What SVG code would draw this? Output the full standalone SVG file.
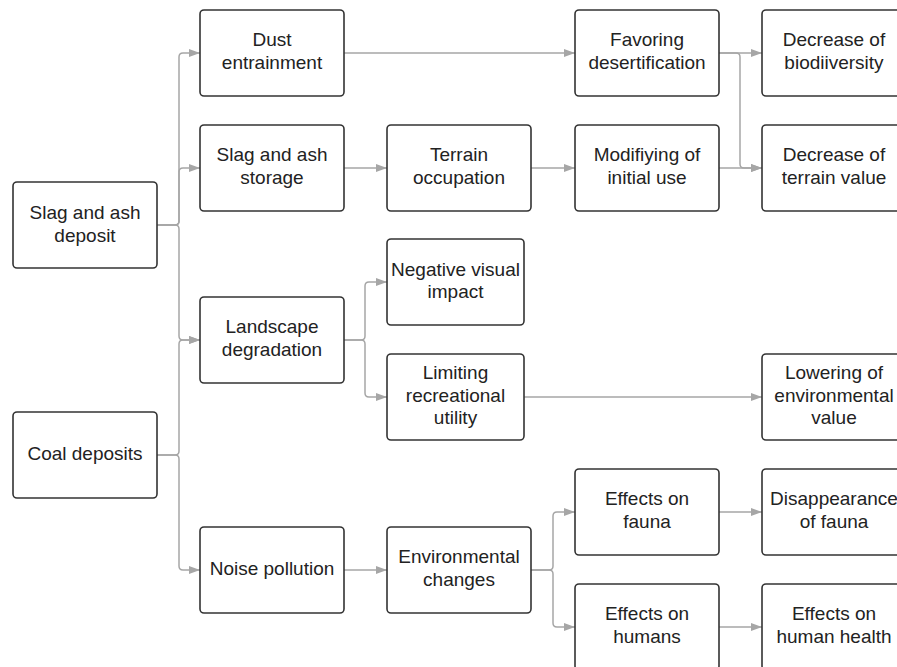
<svg xmlns="http://www.w3.org/2000/svg" width="897" height="667" viewBox="0 0 897 667">
<style>
.box{fill:#fff;stroke:#333;stroke-width:1.6}
.t{font-family:"Liberation Sans",Arial,sans-serif;font-size:19px;fill:#222;text-anchor:middle}
.c{fill:none;stroke:#a6a6a6;stroke-width:1.5}
</style>
<defs>
<marker id="ah" markerUnits="userSpaceOnUse" markerWidth="11" markerHeight="8" refX="11" refY="4" orient="auto">
<path d="M0,0 L11,4 L0,8 z" fill="#a6a6a6"/>
</marker>
</defs>
<rect width="897" height="667" fill="#fff"/>
<g id="connectors">
<path class="c" marker-end="url(#ah)" d="M157,225 H175 Q179,225 179,221 V57 Q179,53 183,53 H200"/>
<path class="c" marker-end="url(#ah)" d="M157,225 H175 Q179,225 179,221 V172 Q179,168 183,168 H200"/>
<path class="c" marker-end="url(#ah)" d="M157,225 H175 Q179,225 179,229 V336 Q179,340 183,340 H200"/>
<path class="c" marker-end="url(#ah)" d="M157,455 H175 Q179,455 179,451 V344 Q179,340 183,340 H200"/>
<path class="c" marker-end="url(#ah)" d="M157,455 H175 Q179,455 179,459 V566 Q179,570 183,570 H200"/>
<path class="c" marker-end="url(#ah)" d="M344,53 H575"/>
<path class="c" marker-end="url(#ah)" d="M344,168 H387"/>
<path class="c" marker-end="url(#ah)" d="M531,168 H575"/>
<path class="c" marker-end="url(#ah)" d="M719,53 H762"/>
<path class="c" marker-end="url(#ah)" d="M719,53 H736 Q740,53 740,57 V164 Q740,168 744,168 H762"/>
<path class="c" marker-end="url(#ah)" d="M719,168 H762"/>
<path class="c" marker-end="url(#ah)" d="M344,340 H361 Q365,340 365,336 V286 Q365,282 369,282 H387"/>
<path class="c" marker-end="url(#ah)" d="M344,340 H361 Q365,340 365,344 V393 Q365,397 369,397 H387"/>
<path class="c" marker-end="url(#ah)" d="M524,397 H762"/>
<path class="c" marker-end="url(#ah)" d="M344,570 H387"/>
<path class="c" marker-end="url(#ah)" d="M531,570 H549 Q553,570 553,566 V516 Q553,512 557,512 H575"/>
<path class="c" marker-end="url(#ah)" d="M531,570 H549 Q553,570 553,574 V623 Q553,627 557,627 H575"/>
<path class="c" marker-end="url(#ah)" d="M719,512 H762"/>
<path class="c" marker-end="url(#ah)" d="M719,627 H762"/>
</g>
<g id="n-slag-deposit"><rect class="box" x="13" y="182" width="144" height="86" rx="4"/><text class="t" x="85" y="219">Slag and ash</text><text class="t" x="85" y="241.5">deposit</text></g>
<g id="n-coal"><rect class="box" x="13" y="412" width="144" height="86" rx="4"/><text class="t" x="85" y="460">Coal deposits</text></g>
<g id="n-dust"><rect class="box" x="200" y="10" width="144" height="86" rx="4"/><text class="t" x="272" y="46">Dust</text><text class="t" x="272" y="68.5">entrainment</text></g>
<g id="n-slag-storage"><rect class="box" x="200" y="125" width="144" height="86" rx="4"/><text class="t" x="272" y="161">Slag and ash</text><text class="t" x="272" y="183.5">storage</text></g>
<g id="n-landscape"><rect class="box" x="200" y="297" width="144" height="86" rx="4"/><text class="t" x="272" y="333">Landscape</text><text class="t" x="272" y="355.5">degradation</text></g>
<g id="n-noise"><rect class="box" x="200" y="527" width="144" height="86" rx="4"/><text class="t" x="272" y="575">Noise pollution</text></g>
<g id="n-terrain"><rect class="box" x="387" y="125" width="144" height="86" rx="4"/><text class="t" x="459" y="161">Terrain</text><text class="t" x="459" y="183.5">occupation</text></g>
<g id="n-visual"><rect class="box" x="387" y="239" width="137" height="86" rx="4"/><text class="t" x="455.5" y="275.5">Negative visual</text><text class="t" x="455.5" y="298">impact</text></g>
<g id="n-recreational"><rect class="box" x="387" y="354" width="137" height="86" rx="4"/><text class="t" x="455.5" y="379">Limiting</text><text class="t" x="455.5" y="401.5">recreational</text><text class="t" x="455.5" y="424">utility</text></g>
<g id="n-envchanges"><rect class="box" x="387" y="527" width="144" height="86" rx="4"/><text class="t" x="459" y="563">Environmental</text><text class="t" x="459" y="585.5">changes</text></g>
<g id="n-favoring"><rect class="box" x="575" y="10" width="144" height="86" rx="4"/><text class="t" x="647" y="46">Favoring</text><text class="t" x="647" y="68.5">desertification</text></g>
<g id="n-modifying"><rect class="box" x="575" y="125" width="144" height="86" rx="4"/><text class="t" x="647" y="161">Modifiying of</text><text class="t" x="647" y="183.5">initial use</text></g>
<g id="n-fauna"><rect class="box" x="575" y="469" width="144" height="86" rx="4"/><text class="t" x="647" y="505">Effects on</text><text class="t" x="647" y="527.5">fauna</text></g>
<g id="n-humans"><rect class="box" x="575" y="584" width="144" height="86" rx="4"/><text class="t" x="647" y="620">Effects on</text><text class="t" x="647" y="642.5">humans</text></g>
<g id="n-biodiversity"><rect class="box" x="762" y="10" width="144" height="86" rx="4"/><text class="t" x="834" y="46">Decrease of</text><text class="t" x="834" y="68.5">biodiiversity</text></g>
<g id="n-terrainvalue"><rect class="box" x="762" y="125" width="144" height="86" rx="4"/><text class="t" x="834" y="161">Decrease of</text><text class="t" x="834" y="183.5">terrain value</text></g>
<g id="n-envvalue"><rect class="box" x="762" y="354" width="144" height="86" rx="4"/><text class="t" x="834" y="379">Lowering of</text><text class="t" x="834" y="401.5">environmental</text><text class="t" x="834" y="424">value</text></g>
<g id="n-disappearance"><rect class="box" x="762" y="469" width="144" height="86" rx="4"/><text class="t" x="834" y="505">Disappearance</text><text class="t" x="834" y="527.5">of fauna</text></g>
<g id="n-health"><rect class="box" x="762" y="584" width="144" height="86" rx="4"/><text class="t" x="834" y="620">Effects on</text><text class="t" x="834" y="642.5">human health</text></g>
</svg>
